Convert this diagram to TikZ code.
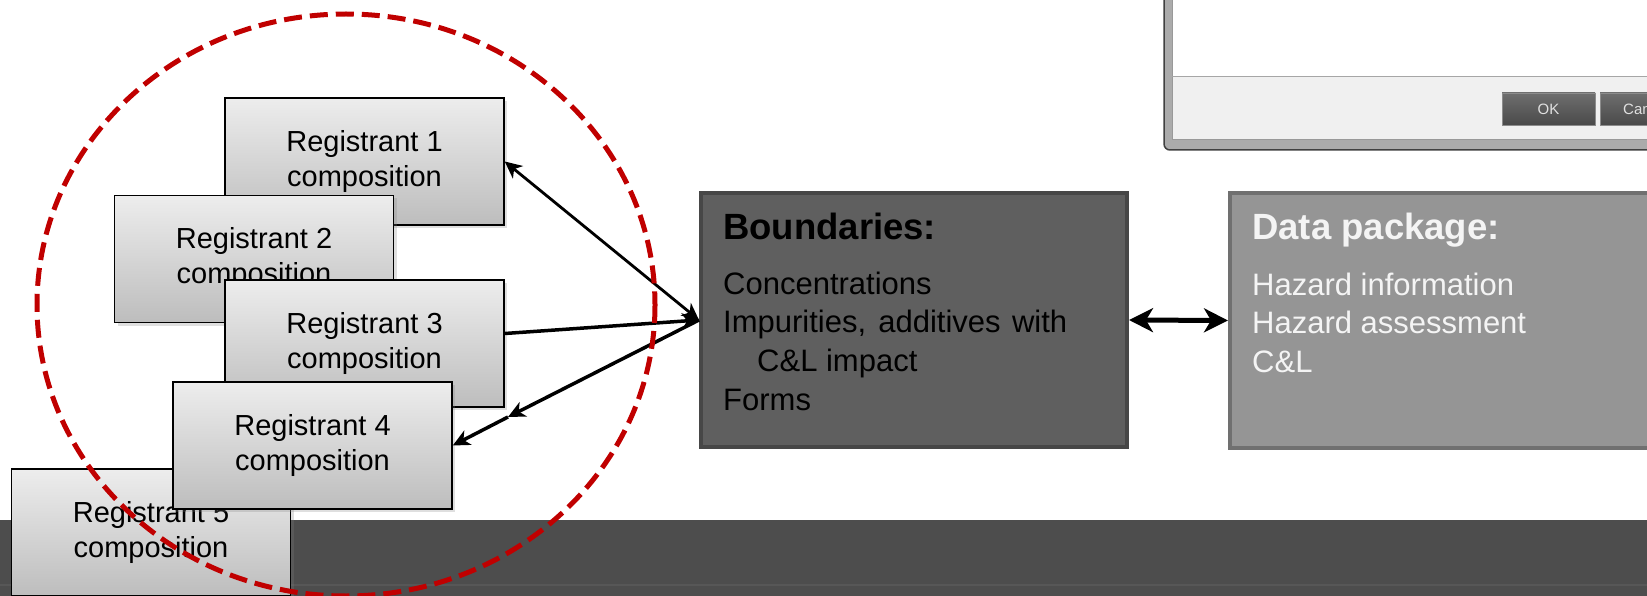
\documentclass[tikz,border=0pt]{standalone}
\usepackage{fontspec}
\setmainfont{Liberation Sans}
\usetikzlibrary{arrows.meta,shadows}

\definecolor{regtop}{HTML}{EDEDED}
\definecolor{regbot}{HTML}{BDBDBD}
\definecolor{bndfill}{HTML}{5F5F5F}
\definecolor{bndline}{HTML}{474747}
\definecolor{datfill}{HTML}{959595}
\definecolor{datline}{HTML}{707070}
\definecolor{datext}{HTML}{F4F4F4}
\definecolor{ringred}{HTML}{C00000}
\definecolor{bandgray}{HTML}{4D4D4D}
\definecolor{bandline}{HTML}{575757}
\definecolor{dlgframe}{HTML}{ABABAB}
\definecolor{dlgfoot}{HTML}{F0F0F0}
\definecolor{btntop}{HTML}{6E6E6E}
\definecolor{btnbot}{HTML}{4A4A4A}

\tikzset{
  regbox/.style={draw=black, line width=1.5pt, top color=regtop, bottom color=regbot,
    minimum width=279pt, minimum height=127pt, inner sep=0pt, align=center,
    font=\fontsize{29}{35}\selectfont, execute at begin node=\rule{0pt}{30pt},
    drop shadow={shadow xshift=3pt, shadow yshift=-3pt, opacity=0.25}},
  bndbox/.style={fill=bndfill, draw=bndline, line width=4pt,
    minimum width=426pt, minimum height=254pt},
  datbox/.style={fill=datfill, draw=datline, line width=4pt,
    minimum width=480pt, minimum height=255pt},
  boxtitle/.style={anchor=base west, inner sep=0pt, font=\fontsize{36.5}{40}\bfseries},
  boxlist/.style={anchor=north west, inner sep=0pt, align=left, font=\fontsize{31}{38.7}\selectfont},
  btn/.style={draw=black!45, line width=0.8pt, top color=btntop, bottom color=btnbot,
    minimum width=93pt, minimum height=32pt, inner sep=0pt, text=black!12,
    font=\fontsize{15}{18}\selectfont},
}

\begin{document}
\begin{tikzpicture}[x=1pt, y=-1pt, >={Stealth[length=17pt,width=16pt,inset=5pt]}]
  \useasboundingbox (0,0) rectangle (1647,596);
  \clip (0,0) rectangle (1647,596);

  % dialog window, top right
  \draw[fill=dlgframe, draw=black!75, line width=1.5pt, rounded corners=6pt] (1164,-30) rectangle (1700,150);
  \fill[white] (1172,-30) rectangle (1700,77);
  \fill[dlgfoot] (1172,77) rectangle (1700,140);
  \draw[black!40, line width=1pt] (1172,-30) -- (1172,140) -- (1700,140);
  \draw[black!35, line width=1pt] (1172,77) -- (1700,77);
  \node[btn] (ok) at (1548.5,109) {OK};
  \node[btn] (cancel) at (1646.5,109) {Cancel};

  % dark band
  \fill[bandgray] (0,520) rectangle (1647,596);
  \fill[bandline] (0,584) rectangle (1647,586);

  % registrant compositions
  \node[regbox] (r5) at (151,532.5) {Registrant 5\\composition};
  \node[regbox] (r1) at (364.5,161.5) {Registrant 1\\composition};
  \node[regbox] (r2) at (254,259) {Registrant 2\\composition};
  \node[regbox] (r3) at (364.5,343.5) {Registrant 3\\composition};
  \node[regbox] (r4) at (312.5,445.5) {Registrant 4\\composition};

  % boundaries and data package
  \node[bndbox] (bnd) at (914,320) {};
  \node[boxtitle] (bndtitle) at (723,240) {Boundaries:};
  \node[boxlist] (bndlist) at (723,271.5) {Concentrations\\
    \makebox[344pt][s]{Impurities, additives with}\\
    \hspace*{34pt}C\&L impact\\
    Forms};

  \node[datbox] (dat) at (1470,320.5) {};
  \node[boxtitle, text=datext] (dattitle) at (1252,240) {Data package:};
  \node[boxlist, text=datext] (datlist) at (1252,272.5) {Hazard information\\
    Hazard assessment\\
    C\&L};

  % connectors
  \draw[<->, line width=2.8pt] (r1.east) -- (bnd.west);
  \draw[->, line width=3.5pt] ([yshift=10pt]r3.east) -- (bnd.west);
  \coordinate (r4mid) at (508,417);
  \draw[->, line width=3.5pt] (bnd.west) -- (r4mid);
  \draw[->, line width=3.5pt] (r4mid) -- (r4.east);
  \draw[<->, line width=5pt, >={Stealth[length=24pt,width=24pt,inset=7pt]}] (bnd.east) -- (dat.west);

  % group ring
  \draw[ringred, line width=5pt, dash pattern=on 18pt off 8pt] (346,305) ellipse [x radius=309, y radius=291];
\end{tikzpicture}
\end{document}
